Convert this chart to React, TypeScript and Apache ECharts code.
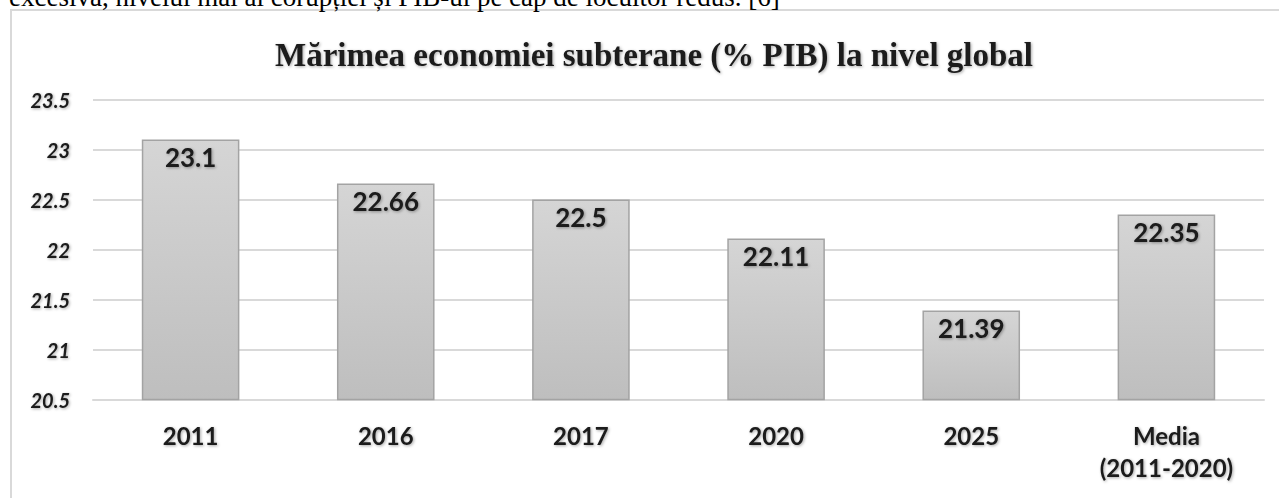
import React, { useEffect, useRef } from "react";
import * as echarts from "echarts";

const categories = ["2011", "2016", "2017", "2020", "2025", "Media\n(2011-2020)"];
const values = [23.1, 22.66, 22.5, 22.11, 21.39, 22.35];
const yMin = 20.5;
const yMax = 23.5;
const yStep = 0.5;
const titleText = "Mărimea economiei subterane (% PIB) la nivel global";
const topText = "excesivă, nivelul mai ai corupției și PIB-ul pe cap de locuitor redus. [6]";

const shadow = {
  textShadowColor: "rgba(0,0,0,0.35)",
  textShadowBlur: 3,
  textShadowOffsetX: 1,
  textShadowOffsetY: 1,
};

export default function App() {
  const ref = useRef<HTMLDivElement>(null);
  useEffect(() => {
    document.body.style.margin = "0";
    const chart = echarts.init(ref.current!, null, { renderer: "svg" });
    chart.setOption({
      animation: false,
      backgroundColor: "#ffffff",
      graphic: [
        {
          type: "rect",
          shape: { x: 11, y: 10, width: 1290, height: 520 },
          style: { fill: "none", stroke: "#d9d9d9", lineWidth: 2 },
          z: 0,
        },
        {
          type: "text",
          x: 9,
          y: -3,
          style: {
            text: topText,
            font: "27px 'Liberation Serif'",
            fill: "#000",
            verticalAlign: "middle",
          },
        },
      ],
      title: {
        text: titleText,
        left: 649,
        textAlign: "center",
        top: 33,
        textStyle: {
          fontFamily: "'Liberation Serif'",
          fontWeight: "bold",
          fontSize: 33,
          color: "#1a1a1a",
          ...shadow,
        },
      },
      grid: { left: 93, right: 15, top: 99.5, bottom: 98.5 },
      xAxis: {
        type: "category",
        data: categories,
        axisLine: { show: true, lineStyle: { color: "#d9d9d9", width: 2 } },
        axisTick: { show: false },
        axisLabel: {
          margin: 20,
          fontFamily: "Lato",
          fontWeight: "bold",
          fontSize: 24,
          lineHeight: 32,
          color: "#1a1a1a",
          ...shadow,
        },
      },
      yAxis: {
        type: "value",
        min: yMin,
        max: yMax,
        interval: yStep,
        axisLine: { show: false },
        axisTick: { show: false },
        splitLine: { lineStyle: { color: "#d9d9d9", width: 2 } },
        axisLabel: {
          margin: 23,
          fontFamily: "Lato",
          fontWeight: "bold",
          fontStyle: "italic",
          fontSize: 20,
          color: "#1a1a1a",
          formatter: (v: number) => String(Math.round(v * 10) / 10),
          ...shadow,
        },
      },
      series: [
        {
          type: "bar",
          data: values,
          barWidth: "50%",
          itemStyle: {
            color: new echarts.graphic.LinearGradient(0, 0, 0, 1, [
              { offset: 0, color: "#d5d5d5" },
              { offset: 1, color: "#bebebe" },
            ]),
            borderColor: "#a3a3a3",
            borderWidth: 1.5,
          },
          label: {
            show: true,
            position: "insideTop",
            distance: 4,
            fontFamily: "Lato",
            fontWeight: "bold",
            fontSize: 26,
            color: "#1a1a1a",
            ...shadow,
          },
        },
      ],
    });
    return () => chart.dispose();
  }, []);
  return (
    <div
      ref={ref}
      style={{ position: "absolute", left: 0, top: 0, width: 1279, height: 498 }}
    />
  );
}
